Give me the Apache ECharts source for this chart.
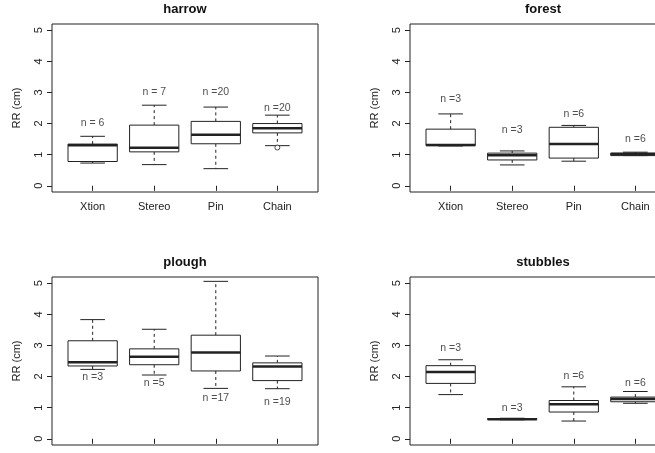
<!DOCTYPE html>
<html>
<head>
<meta charset="utf-8">
<script src="https://cdn.jsdelivr.net/npm/echarts@6/dist/echarts.min.js"></script>
<style>
  html, body { margin: 0; padding: 0; background: #fff; overflow: hidden; }
  #main { width: 700px; height: 500px; }
</style>
</head>
<body>
<div id="main"></div>
<script>
const categories = ['Xtion', 'Stereo', 'Pin', 'Chain']
const panelNames = ['harrow', 'forest', 'plough', 'stubbles']
const yTicks = [0, 1, 2, 3, 4, 5]

// box stats: [min, q1, median, q3, max]
const harrowStats = [[0.73, 0.78, 1.30, 1.34, 1.59], [0.68, 1.09, 1.22, 1.95, 2.59], [0.55, 1.35, 1.64, 2.07, 2.53], [1.29, 1.70, 1.85, 2.00, 2.27]]
const forestStats = [[1.28, 1.29, 1.31, 1.82, 2.31], [0.67, 0.83, 0.98, 1.05, 1.12], [0.79, 0.89, 1.34, 1.88, 1.94], [0.97, 0.97, 1.02, 1.05, 1.08]]
const ploughStats = [[2.23, 2.34, 2.46, 3.15, 3.83], [2.05, 2.38, 2.64, 2.89, 3.52], [1.62, 2.18, 2.77, 3.33, 5.06], [1.61, 1.87, 2.32, 2.44, 2.66]]
const stubblesStats = [[1.42, 1.78, 2.15, 2.35, 2.54], [0.61, 0.62, 0.63, 0.65, 0.66], [0.57, 0.86, 1.11, 1.23, 1.67], [1.14, 1.19, 1.28, 1.34, 1.52]]

// "n =" labels: text and the height they sit at
const harrowLabels = ['n = 6', 'n = 7', 'n =20', 'n =20']
const harrowLabelY = [2.0, 3.0, 3.0, 2.5]
const forestLabels = ['n =3', 'n =3', 'n =6', 'n =6']
const forestLabelY = [2.8, 1.8, 2.3, 1.5]
const ploughLabels = ['n =3', 'n =5', 'n =17', 'n =19']
const ploughLabelY = [1.98, 1.79, 1.30, 1.19]
const stubblesLabels = ['n =3', 'n =3', 'n =6', 'n =6']
const stubblesLabelY = [2.91, 1.0, 2.0, 1.79]

// outliers: [category index (1-based), value]
const harrowOutliers = [[4, 1.23]]

const allStats = [harrowStats, forestStats, ploughStats, stubblesStats]
const allLabels = [harrowLabels, forestLabels, ploughLabels, stubblesLabels]
const allLabelY = [harrowLabelY, forestLabelY, ploughLabelY, stubblesLabelY]
const allOutliers = [harrowOutliers, [], [], []]

const font = '"Liberation Sans", Arial, Helvetica, sans-serif'
const ink = '#222'
const gridPos = [[52, 24], [410, 24], [52, 277], [410, 277]]
const gridW = 266
const gridH = 168

var myChart = echarts.init(document.getElementById('main'))

function renderBox (params, api) {
  const x = api.value(0)
  const lo = api.value(1)
  const q1 = api.value(2)
  const med = api.value(3)
  const q3 = api.value(4)
  const hi = api.value(5)
  const half = 0.4
  const cap = 0.2
  const tl = api.coord([x - half, q3])
  const br = api.coord([x + half, q1])
  const mL = api.coord([x - half, med])
  const mR = api.coord([x + half, med])
  const c = api.coord([x, q3])[0]
  const pHi = api.coord([x, hi])
  const pLo = api.coord([x, lo])
  const pQ1 = api.coord([x, q1])
  const pQ3 = api.coord([x, q3])
  const capW = api.coord([x + cap, hi])[0] - c
  const line = { stroke: ink, lineWidth: 1, fill: null }
  const dashed = { stroke: ink, lineWidth: 1, lineDash: [3, 3], fill: null }
  return {
    type: 'group',
    children: [
      { type: 'line', shape: { x1: c, y1: pQ3[1], x2: c, y2: pHi[1] }, style: dashed },
      { type: 'line', shape: { x1: c, y1: pQ1[1], x2: c, y2: pLo[1] }, style: dashed },
      { type: 'line', shape: { x1: c - capW, y1: pHi[1], x2: c + capW, y2: pHi[1] }, style: line },
      { type: 'line', shape: { x1: c - capW, y1: pLo[1], x2: c + capW, y2: pLo[1] }, style: line },
      { type: 'rect', shape: { x: tl[0], y: tl[1], width: br[0] - tl[0], height: br[1] - tl[1] }, style: { stroke: ink, lineWidth: 1, fill: '#fff' } },
      { type: 'line', shape: { x1: mL[0], y1: mL[1], x2: mR[0], y2: mR[1] }, style: { stroke: ink, lineWidth: 2.5 } }
    ]
  }
}

const grid = []
const xAxis = []
const yAxis = []
const series = []
const graphic = []

panelNames.forEach(function (name, i) {
  grid.push({
    left: gridPos[i][0],
    top: gridPos[i][1],
    width: gridW,
    height: gridH,
    outerBoundsMode: 'none',
    containLabel: false,
    show: true,
    borderColor: ink,
    borderWidth: 1,
    backgroundColor: '#fff'
  })
  xAxis.push({
    type: 'value',
    gridIndex: i,
    min: 0.34,
    max: 4.66,
    axisLine: { show: false },
    splitLine: { show: false },
    axisTick: { show: true, length: 5, lineStyle: { color: ink }, customValues: [1, 2, 3, 4] },
    axisLabel: {
      customValues: [1, 2, 3, 4],
      formatter: function (v) { return categories[Math.round(v) - 1] },
      color: ink,
      fontFamily: font,
      fontSize: 11,
      margin: 9
    }
  })
  yAxis.push({
    type: 'value',
    gridIndex: i,
    min: -0.2,
    max: 5.2,
    name: 'RR (cm)',
    nameLocation: 'middle',
    nameRotate: 90,
    nameGap: 30,
    nameTextStyle: { color: ink, fontFamily: font, fontSize: 11 },
    axisLine: { show: false },
    splitLine: { show: false },
    axisTick: { show: true, length: 5, lineStyle: { color: ink }, customValues: yTicks },
    axisLabel: {
      customValues: yTicks,
      rotate: 90,
      color: ink,
      fontFamily: font,
      fontSize: 11,
      margin: 8
    }
  })
  graphic.push({
    type: 'text',
    x: gridPos[i][0] + gridW / 2,
    y: gridPos[i][1] - 15,
    style: {
      text: name,
      fill: '#111',
      font: 'bold 13px ' + font,
      textAlign: 'center',
      textVerticalAlign: 'middle'
    }
  })
  series.push({
    type: 'custom',
    xAxisIndex: i,
    yAxisIndex: i,
    renderItem: renderBox,
    encode: { x: 0, y: [1, 2, 3, 4, 5] },
    data: allStats[i].map(function (s, k) { return [k + 1].concat(s) }),
    silent: true
  })
  series.push({
    type: 'scatter',
    xAxisIndex: i,
    yAxisIndex: i,
    symbolSize: 0,
    itemStyle: { color: 'rgba(0,0,0,0)' },
    label: {
      show: true,
      position: 'inside',
      formatter: function (p) { return allLabels[i][p.dataIndex] },
      color: ink,
      fontFamily: font,
      fontSize: 10.5
    },
    data: allLabelY[i].map(function (y, k) { return [k + 1, y] }),
    silent: true
  })
  if (allOutliers[i].length) {
    series.push({
      type: 'scatter',
      xAxisIndex: i,
      yAxisIndex: i,
      symbol: 'circle',
      symbolSize: 5,
      itemStyle: { color: '#fff', borderColor: ink, borderWidth: 1 },
      data: allOutliers[i],
      silent: true
    })
  }
})

var option = {
  animation: false,
  backgroundColor: '#fff',
  grid: grid,
  xAxis: xAxis,
  yAxis: yAxis,
  series: series,
  graphic: graphic
}

myChart.setOption(option)
</script>
</body>
</html>
